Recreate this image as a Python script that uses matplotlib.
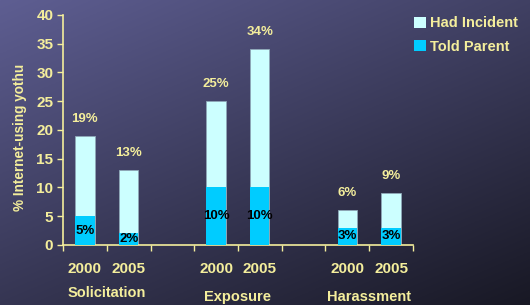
import numpy as np
import matplotlib
matplotlib.use("Agg")
import matplotlib.pyplot as plt
from matplotlib.patches import Patch

plt.rcParams["font.family"] = ["Liberation Sans", "DejaVu Sans"]

# data
years = ["2000", "2005", "", "2000", "2005", "", "2000", "2005"]
groups = ["Solicitation", "Exposure", "Harassment"]
had_incident = [19, 13, None, 25, 34, None, 6, 9]
told_parent = [5, 2, None, 10, 10, None, 3, 3]

yellow = "#f4ee9c"
light = "#ccffff"
cyan = "#00ccff"

fig = plt.figure(figsize=(5.3, 3.05), dpi=100)

# diagonal background gradient
bg = fig.add_axes([0, 0, 1, 1])
yy, xx = np.mgrid[0:1:200j, 0:1:300j]
t = np.clip((xx * 0.55 + yy * 0.75) / 1.3, 0, 1)
c0 = np.array([94, 94, 146]) / 255.
c1 = np.array([24, 24, 36]) / 255.
img = c0[None, None, :] * (1 - t[..., None]) + c1[None, None, :] * t[..., None]
bg.imshow(img, aspect="auto", extent=[0, 1, 0, 1], origin="upper")
bg.axis("off")

ax = fig.add_axes([0.119, 0.197, 0.66, 0.754])
ax.patch.set_visible(False)

x = np.arange(len(years))
w = 0.44
for i in x:
    if had_incident[i] is None:
        continue
    ax.bar(i, had_incident[i], w, color=light, edgecolor="#8fa8b8", linewidth=0.6, zorder=2)
    ax.bar(i, told_parent[i], w, color=cyan, edgecolor="none", zorder=3)
    ax.annotate("%d%%" % had_incident[i], (i, had_incident[i]), xytext=(0, 8),
                textcoords="offset points", ha="center", va="bottom",
                color=yellow, fontsize=9.5, fontweight="bold")
    ax.text(i, told_parent[i] / 2., "%d%%" % told_parent[i], ha="center", va="center",
            color="black", fontsize=9.5, fontweight="bold", zorder=4)

ax.set_xlim(-0.5, len(years) - 0.5)
ax.set_ylim(0, 40)
ax.set_yticks(range(0, 41, 5))
ax.set_xticks(np.arange(-0.5, len(years)))
ax.set_xticklabels([])
ax.tick_params(axis="both", colors=yellow, length=4, width=1)
ax.tick_params(axis="y", labelsize=11, labelcolor=yellow, pad=3)
for lab in ax.get_yticklabels():
    lab.set_fontweight("bold")
for s in ["top", "right"]:
    ax.spines[s].set_visible(False)
for s in ["left", "bottom"]:
    ax.spines[s].set_color(yellow)
    ax.spines[s].set_linewidth(1.2)

for i, yr in enumerate(years):
    if yr:
        ax.text(i, -0.105, yr, transform=ax.get_xaxis_transform(), ha="center", va="center",
                color=yellow, fontsize=11, fontweight="bold")
for g, name in enumerate(groups):
    ax.text(3 * g + 0.5, -0.21 if g == 0 else -0.225, name, transform=ax.get_xaxis_transform(),
            ha="center", va="center", color=yellow, fontsize=10.5, fontweight="bold")

fig.text(20 / 530., 0.55, "% Internet-using yothu", rotation=90, ha="center", va="center",
         color=yellow, fontsize=9.8, fontweight="bold")

handles = [Patch(facecolor=light, edgecolor="none"), Patch(facecolor=cyan, edgecolor="none")]
fig.legend(handles, ["Had Incident", "Told Parent"], loc="upper left",
           bbox_to_anchor=(0.757, 0.99), frameon=False, labelcolor=yellow,
           prop={"weight": "bold", "size": 10.5}, handlelength=0.8, handleheight=0.8,
           handletextpad=0.3, labelspacing=0.65)

fig.savefig("out.png", dpi=100)
